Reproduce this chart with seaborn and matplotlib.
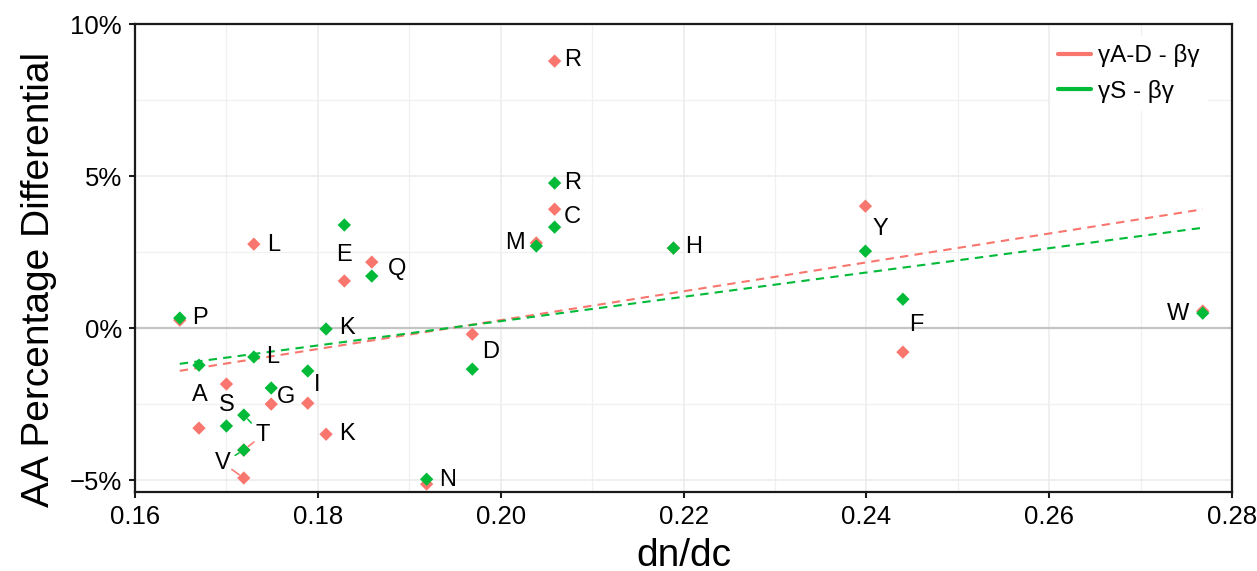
import matplotlib
matplotlib.use("Agg")
import matplotlib.pyplot as plt
from matplotlib.lines import Line2D
from matplotlib.ticker import MultipleLocator
import numpy as np
import pandas as pd
import seaborn as sns

# ---------------- data ----------------
amino_acids = ['P', 'A', 'S', 'T', 'V', 'L', 'G', 'I', 'K', 'E',
               'Q', 'N', 'D', 'M', 'R', 'C', 'H', 'Y', 'F', 'W']
dndc = [0.1649, 0.1670, 0.1700, 0.1719, 0.1719, 0.1730, 0.1749, 0.1789, 0.1809, 0.1829,
        0.1859, 0.1919, 0.1969, 0.2039, 0.2059, 0.2059, 0.2189, 0.2399, 0.2440, 0.2768]
diff_gAD = [0.26, -3.29, -1.84, -4.01, -4.93, 2.76, -2.50, -2.47, -3.49, 1.55,
            2.17, -5.13, -0.20, 2.80, 8.78, 3.91, 2.63, 4.01, -0.79, 0.56]
diff_gS = [0.33, -1.22, -3.22, -2.86, -4.01, -0.95, -1.97, -1.41, -0.03, 3.39,
           1.71, -4.97, -1.35, 2.70, 4.77, 3.32, 2.63, 2.53, 0.95, 0.49]
series_names = ['γA-D - βγ', 'γS - βγ']
x_ticks = [0.16, 0.18, 0.20, 0.22, 0.24, 0.26, 0.28]
x_tick_labels = ['0.16', '0.18', '0.20', '0.22', '0.24', '0.26', '0.28']
y_ticks = [-5, 0, 5, 10]
y_tick_labels = ['\u22125%', '0%', '5%', '10%']

# label placement: (amino acid, series index, dx px, dy px, draw segment)
labels = [
    ('P', 1, 20, 0, False), ('A', 1, 1, -30, False), ('S', 0, 0, -21, False),
    ('T', 1, 19, -20, True), ('V', 1, -21, -13, True),
    ('L', 0, 20, -1, False), ('L', 1, 19, 0, False), ('G', 1, 15, -9, False),
    ('I', 1, 9, -14, False), ('K', 1, 21, 1, False), ('K', 0, 21, 0, False),
    ('E', 1, 0, -30, False), ('Q', 0, 25, -7, False), ('N', 1, 21, -1, False),
    ('D', 0, 18, -18, False), ('M', 0, -21, 0, False), ('R', 0, 18, 1, False),
    ('R', 1, 18, 0, False), ('C', 0, 18, -8, False), ('H', 1, 20, 1, False),
    ('Y', 1, 15, 22, False), ('F', 1, 13, -26, False), ('W', 0, -25, -3, False),
]
# extra segments from a shared label to the other series' point
extra_segments = [('T', 0, 19, 15), ('V', 0, -21, 15)]

colors = ['#F8766D', '#00BA38']

# ---------------- figure ----------------
sns.set_theme(style='white')
plt.rcParams['font.family'] = ['Liberation Sans', 'DejaVu Sans']
plt.rcParams['text.color'] = 'black'
plt.rcParams['axes.labelcolor'] = 'black'

fig = plt.figure(figsize=(12.57, 5.71), dpi=100)
ax = fig.add_axes([135 / 1257, 1 - 492 / 571, (1232 - 135) / 1257, (492 - 24) / 571])

df = pd.DataFrame({
    'aa': amino_acids * 2,
    'dndc': dndc * 2,
    'diff': diff_gAD + diff_gS,
    'series': [series_names[0]] * len(amino_acids) + [series_names[1]] * len(amino_acids),
})

# grid
ax.set_xlim(0.16, 0.28)
ax.set_ylim(-5.39, 10)
ax.xaxis.set_minor_locator(MultipleLocator(0.01))
ax.yaxis.set_minor_locator(MultipleLocator(2.5))
ax.grid(True, which='major', color='#EBEBEB', lw=1.1, zorder=0)
ax.grid(True, which='minor', color='#F0F0F0', lw=0.9, zorder=0)
ax.set_axisbelow(True)

ax.axhline(0, color='#C4C4C4', lw=1.6, zorder=1)

# regression lines
for i, name in enumerate(series_names):
    sub = df[df['series'] == name]
    sns.regplot(data=sub, x='dndc', y='diff', ax=ax, scatter=False, ci=None,
                truncate=True, color=colors[i],
                line_kws=dict(lw=1.5, ls=(0, (4, 3)), zorder=2))

# points
sns.scatterplot(data=df, x='dndc', y='diff', hue='series', palette=colors,
                hue_order=series_names, marker='D', s=46, linewidth=0,
                ax=ax, legend=False, zorder=3)

# labels
LABEL_FS = 17
vals = [diff_gAD, diff_gS]
for aa, si, dx, dy, seg in labels:
    idx = amino_acids.index(aa)
    x, y = dndc[idx], vals[si][idx]
    kw = dict(xy=(x, y), xytext=(dx, dy), textcoords='offset pixels',
              ha='center', va='center', fontsize=LABEL_FS, color='black', zorder=4)
    if seg:
        kw['arrowprops'] = dict(arrowstyle='-', color=colors[si], lw=1.1,
                                shrinkA=1, shrinkB=4)
    ax.annotate(aa, **kw)
for aa, si, dx, dy in extra_segments:
    idx = amino_acids.index(aa)
    x, y = dndc[idx], vals[si][idx]
    ax.annotate('', xy=(x, y), xytext=(dx, dy), textcoords='offset pixels',
                arrowprops=dict(arrowstyle='-', color=colors[si], lw=1.1,
                                shrinkA=8, shrinkB=4), zorder=2.5)

# axes styling
ax.set_xticks(x_ticks)
ax.set_xticklabels(x_tick_labels)
ax.set_yticks(y_ticks)
ax.set_yticklabels(y_tick_labels)
ax.tick_params(axis='both', which='major', length=4.5, width=1.5, color='#1a1a1a',
               labelsize=18.5, labelcolor='black', pad=5, direction='out',
               bottom=True, left=True)
ax.tick_params(which='minor', length=0)
for sp in ax.spines.values():
    sp.set_visible(True)
    sp.set_color('#1a1a1a')
    sp.set_linewidth(1.6)

ax.set_xlabel('dn/dc', fontsize=28, labelpad=6, color='black')
ax.set_ylabel('AA Percentage Differential', fontsize=28, color='black')
ax.yaxis.set_label_coords(-0.071, 0.455)

handles = [Line2D([0], [0], color=c, lw=3) for c in colors]
leg = ax.legend(handles, series_names, loc='upper right', fontsize=17.5,
                bbox_to_anchor=(1 - 0.0155, 1 - 0.0107),
                frameon=True, facecolor='white', edgecolor='none', framealpha=1,
                handlelength=1.35, handletextpad=0.3, labelspacing=0.53,
                borderaxespad=0.3, borderpad=0.32)
for t in leg.get_texts():
    t.set_color('black')
leg.set_zorder(5)

fig.savefig('out.png', dpi=100)
